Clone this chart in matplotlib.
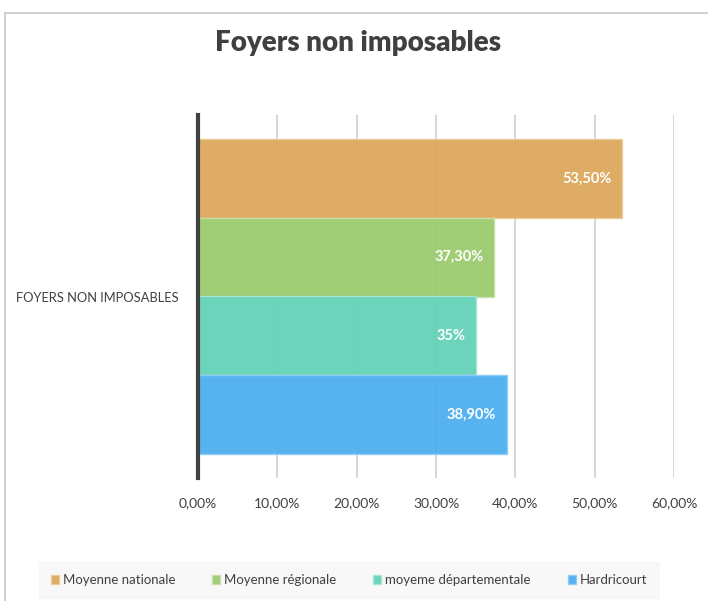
import matplotlib.pyplot as plt
from matplotlib.patches import Rectangle

# data
category = "FOYERS NON IMPOSABLES"
series = ["Moyenne nationale", "Moyenne régionale", "moyeme départementale", "Hardricourt"]
values = [53.5, 37.3, 35.0, 38.9]
labels = ["53,50%", "37,30%", "35%", "38,90%"]
colors = ["#DDA85C", "#9BCB6E", "#64D2B8", "#4DAFF0"]
edges = ["#EBCB98", "#C4E0A8", "#A6E6D6", "#8FCDF6"]
xticks = [0, 10, 20, 30, 40, 50, 60]
xticklabels = ["0,00%", "10,00%", "20,00%", "30,00%", "40,00%", "50,00%", "60,00%"]

plt.rcParams['font.family'] = ['Lato', 'DejaVu Sans']
text_color = "#404040"

fig = plt.figure(figsize=(7.08, 6.01), dpi=100)
W, H = 708, 601

# outer frame of the chart
fig.patches.append(Rectangle((5 / W, -0.1), 1.1, 1 - 13 / H + 0.1, transform=fig.transFigure,
                             fill=False, edgecolor="#C8C8C8", linewidth=1.2))

ax = fig.add_axes([198 / W, 1 - 478 / H, (674 - 198) / W, (478 - 115) / H])

n = len(values)
bar_h = 0.868 / n
for i, (v, c, e, lab) in enumerate(zip(values, colors, edges, labels)):
    y = 0.434 - bar_h * (i + 0.5)
    ax.barh(y, v, height=bar_h, color=c, edgecolor=e, linewidth=1, alpha=0.95, zorder=3, label=series[i])
    ax.text(v - 1.3, y, lab, ha="right", va="center", color="white", fontsize=10.5,
            fontweight="bold", zorder=4)

ax.set_xlim(0, 60)
ax.set_ylim(-0.5, 0.5)
ax.set_xticks(xticks)
ax.set_xticklabels(xticklabels, fontsize=10, color=text_color)
ax.tick_params(axis="x", length=0, pad=14)
ax.set_yticks([0])
ax.set_yticklabels([category], fontsize=9.3, color=text_color)
ax.tick_params(axis="y", length=0, pad=14)
ax.grid(axis="x", color="#D0D0D0", linewidth=1.2, zorder=0)
for s in ["top", "right", "bottom"]:
    ax.spines[s].set_visible(False)
ax.spines["left"].set_color("#404040")
ax.spines["left"].set_linewidth(3)
ax.spines["left"].set_zorder(5)

fig.text(358 / W, 1 - 43 / H, "Foyers non imposables", ha="center", va="center",
         fontsize=20, fontweight="heavy", color=text_color)

handles, leg_labels = ax.get_legend_handles_labels()
leg = fig.legend(handles, leg_labels, loc="center", bbox_to_anchor=(349 / W, 1 - 580 / H),
                 ncol=4, fontsize=9.5, frameon=True, handlelength=0.6, handleheight=0.6,
                 handletextpad=0.3, columnspacing=2.8, borderpad=0.6, labelcolor=text_color)
leg.get_frame().set_facecolor("#F7F7F7")
leg.get_frame().set_edgecolor("#F7F7F7")
leg.get_frame().set_boxstyle("square")

fig.savefig("out.png", dpi=100)
